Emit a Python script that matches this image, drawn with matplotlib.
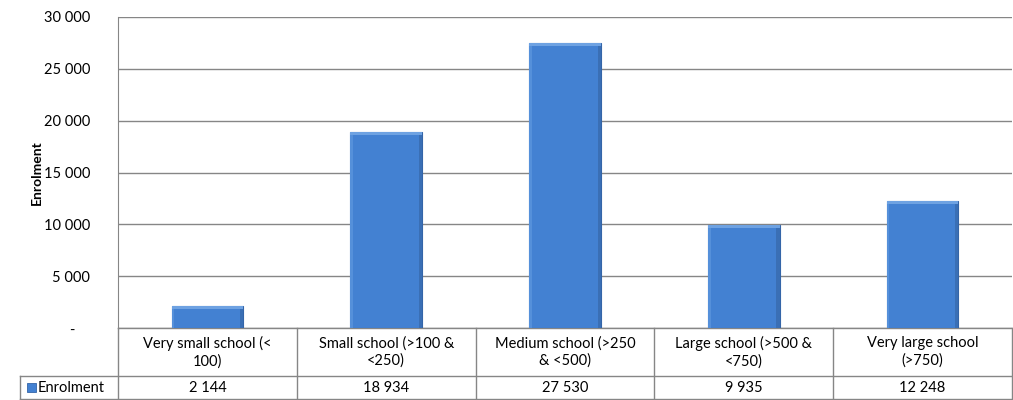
import matplotlib.pyplot as plt
import matplotlib.transforms as mtransforms
from matplotlib.patches import Rectangle

categories = ["Very small school (<\n100)", "Small school (>100 &\n<250)",
              "Medium school (>250\n& <500)", "Large school (>500 &\n<750)",
              "Very large school\n(>750)"]
enrolment = [2144, 18934, 27530, 9935, 12248]
series_name = "Enrolment"
yticks = [0, 5000, 10000, 15000, 20000, 25000, 30000]


def fmt(v):
    return "{:,}".format(v).replace(",", " ")


plt.rcParams["font.family"] = ["Lato", "DejaVu Sans"]
plt.rcParams["font.size"] = 10.5

fig = plt.figure(figsize=(10.13, 4.0), dpi=100)
ax = fig.add_axes([118 / 1013, 72 / 400, 894 / 1013, 311 / 400])

n = len(categories)
xs = [i + 0.5 for i in range(n)]
bar_color = "#4381d2"
edge_color = "#3465a8"
bars = ax.bar(xs, enrolment, width=0.4, color=bar_color, edgecolor=edge_color, linewidth=0.8, zorder=3)
# subtle bevel: lighter top, darker right side
for b in bars:
    x0, w, h = b.get_x(), b.get_width(), b.get_height()
    ax.add_patch(Rectangle((x0, h - 280), w, 280, color="#6ea2e2", lw=0, zorder=4))
    ax.add_patch(Rectangle((x0, 0), w * 0.035, h - 280, color="#5590da", lw=0, zorder=4))
    ax.add_patch(Rectangle((x0 + w * 0.955, 0), w * 0.045, h - 280, color="#3a6fb5", lw=0, zorder=4))

ax.set_xlim(0, n)
ax.set_ylim(0, 30000)
ax.set_yticks(yticks)
ax.set_yticklabels([fmt(v) if v else "-    " for v in yticks])
ax.set_xticks([])
ax.tick_params(axis="y", length=0, pad=20, labelsize=10.5)
ax.grid(axis="y", color="#868686", linewidth=1, zorder=0)
for s in ["top", "right", "bottom"]:
    ax.spines[s].set_visible(False)
ax.spines["left"].set_color("#868686")
ax.set_ylabel("Enrolment", fontweight="bold", fontsize=10, labelpad=1)

# data table under the plot
tr = mtransforms.blended_transform_factory(ax.transData, ax.transAxes)
h1 = 48 / 311
h2 = 23 / 311
left = -98 / (894 / n)
lc = "#868686"
kw = dict(transform=tr, clip_on=False, color=lc, lw=1)
ax.plot([0, n], [0, 0], **kw)
ax.plot([left, n], [-h1, -h1], **kw)
ax.plot([left, n], [-h1 - h2, -h1 - h2], **kw)
ax.plot([left, left], [-h1, -h1 - h2], **kw)
for i in range(n + 1):
    ax.plot([i, i], [0, -h1 - h2], **kw)
for x, cat, v in zip(xs, categories, enrolment):
    ax.text(x, -h1 / 2, cat, transform=tr, ha="center", va="center", linespacing=1.3)
    ax.text(x, -h1 - h2 / 2, fmt(v), transform=tr, ha="center", va="center")
ax.add_patch(Rectangle((left + 0.04, -h1 - h2 / 2 - 0.016), 0.048, 0.032, transform=tr,
                       clip_on=False, facecolor=bar_color, edgecolor=edge_color, lw=0.6))
ax.text(left + 0.1, -h1 - h2 / 2, series_name, transform=tr, ha="left", va="center")

fig.savefig("out.png", dpi=100)
